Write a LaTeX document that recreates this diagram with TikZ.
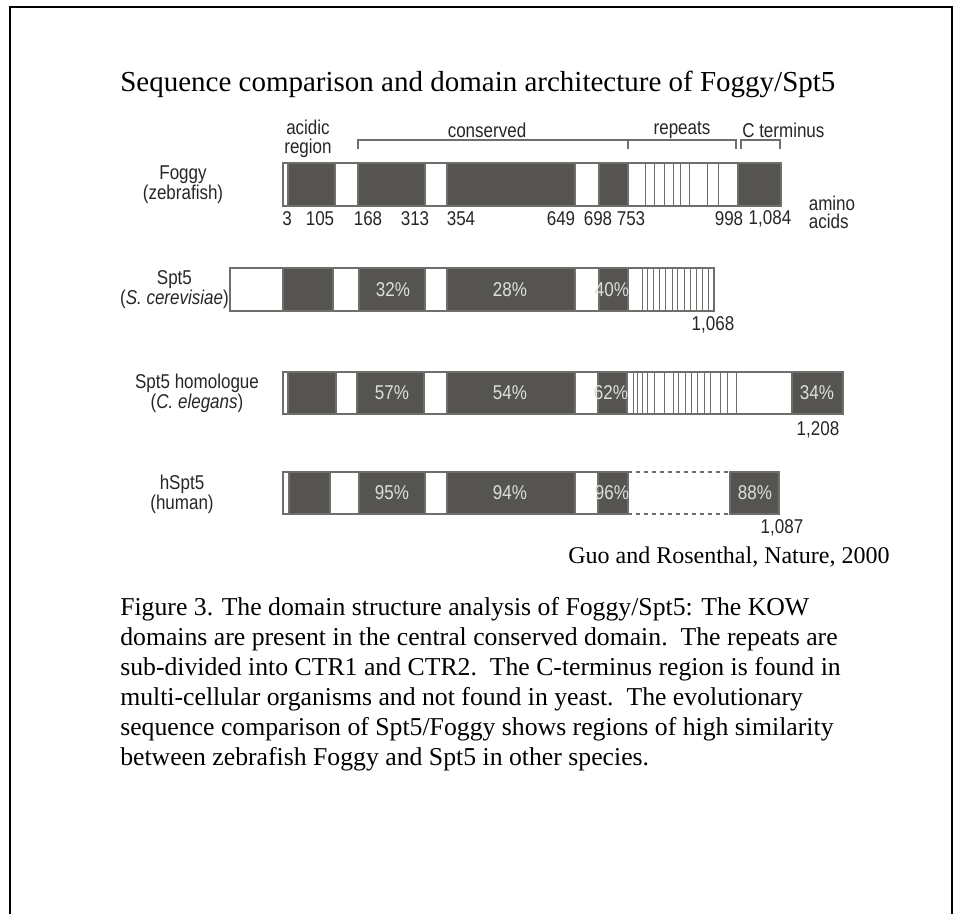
\documentclass[tikz,border=0pt]{standalone}
\usepackage{fontspec}
\setmainfont{Liberation Serif}
\newfontfamily\figsans[FakeStretch=0.85]{Liberation Sans}
\usepackage{tikz}
\usetikzlibrary{positioning}
\definecolor{segdark}{RGB}{86, 84, 80}
\definecolor{segline}{RGB}{112, 110, 106}
\definecolor{pctgrey}{RGB}{222, 222, 218}
\definecolor{labelgrey}{RGB}{38, 38, 38}

\begin{document}
\begin{tikzpicture}[x=0.75pt, y=-0.75pt,
    seg/.style={fill=segdark, draw=segline, line width=0.8pt},
    bar/.style={fill=white, draw=segline, line width=0.8pt},
    stripe/.style={draw=segline, line width=0.6pt},
    bracket/.style={draw=segline, line width=0.8pt},
    pct/.style={font=\figsans\fontsize{15}{16}\selectfont, text=pctgrey, inner sep=0pt},
    num/.style={font=\figsans\fontsize{15}{16}\selectfont, text=labelgrey, inner sep=0pt},
    species/.style={font=\figsans\fontsize{15}{15}\selectfont, align=center, text=labelgrey, inner sep=0pt},
    region/.style={font=\figsans\fontsize{15}{14}\selectfont, align=center, text=labelgrey, inner sep=0pt}
]
\useasboundingbox (0,0) rectangle (956,914);

% Frame
\draw[line width=1.5pt] (10,914) -- (10,7) -- (952,7) -- (952,914);

% Title
\node (title) [anchor=base west, inner sep=0pt, font=\fontsize{21.75}{24}\selectfont] at (120,91) {Sequence comparison and domain architecture of Foggy/Spt5};

% Domain labels and brackets
\node (acidic)    [region] at (308,139) {acidic\\region};
\node (conserved) [region] at (487,130) {conserved};
\node (repeats)   [region] at (682,130) {repeats};
\node (cterm)     [region, anchor=west] at (742,130) {C terminus};
\draw[bracket] (358,149) -- (358,140) -- (628,140) -- (628,149);
\draw[bracket] (628,140) -- (736,140) -- (736,149);
\draw[bracket] (741,149) -- (741,140) -- (780,140) -- (780,149);

% Foggy (zebrafish)
\node (foggy) [species] at (183,185) {Foggy\\(zebrafish)};
\draw[bar] (283,163) rectangle (781,206);
\draw[seg] (288,163) rectangle (335,206);
\draw[seg] (358,163) rectangle (425,206);
\draw[seg] (447,163) rectangle (575,206);
\draw[seg] (599,163) rectangle (628,206);
\draw[seg] (738,163) rectangle (781,206);
\foreach \sx in {645,654,664,673,680,689,707,718}
  \draw[stripe] (\sx,163) -- (\sx,206);

\node (n3)    [num] at (287,219) {3};
\node (n105)  [num] at (320,219) {105};
\node (n168)  [num] at (368,219) {168};
\node (n313)  [num] at (415,219) {313};
\node (n354)  [num] at (461,219) {354};
\node (n649)  [num] at (561,219) {649};
\node (n698)  [num] at (598,219) {698};
\node (n753)  [num] at (631,219) {753};
\node (n998)  [num] at (729,219) {998};
\node (n1084) [num] at (770,219) {1,084};
\node (amino) [region, align=left, font=\figsans\fontsize{15}{13.5}\selectfont] at (832,212) {amino\\acids};

% Spt5 (S. cerevisiae)
\draw[bar] (230,268) rectangle (714,311);
\draw[seg] (283,268) rectangle (333,311);
\draw[seg] (359,268) rectangle (425,311);
\draw[seg] (447,268) rectangle (575,311);
\draw[seg] (599,268) rectangle (628,311);
\foreach \sx in {642,647,653,659,665,672,677,684,690,696,702,708}
  \draw[stripe] (\sx,268) -- (\sx,311);
\node (yeast) [species, anchor=east] at (229,290) {Spt5\\(\textit{S. cerevisiae})};
\node (y32) [pct] at (393,289.5) {32\%};
\node (y28) [pct] at (510,289.5) {28\%};
\node (y40) [pct] at (612,289.5) {40\%};
\node (n1068) [num] at (713,325) {1,068};

% Spt5 homologue (C. elegans)
\node (worm) [species] at (197,393) {Spt5 homologue\\(\textit{C. elegans})};
\draw[bar] (283,372) rectangle (843,414);
\draw[seg] (288,372) rectangle (336,414);
\draw[seg] (357,372) rectangle (424,414);
\draw[seg] (447,372) rectangle (575,414);
\draw[seg] (598,372) rectangle (627,414);
\draw[seg] (792,372) rectangle (843,414);
\foreach \sx in {633,637,642,647,654,664,673,678,685,691,697,704,710,720,727,736}
  \draw[stripe] (\sx,372) -- (\sx,414);
\node (w57) [pct] at (392,393) {57\%};
\node (w54) [pct] at (510,393) {54\%};
\node (w62) [pct] at (611,393) {62\%};
\node (w34) [pct] at (817,393) {34\%};
\node (n1208) [num] at (818,430) {1,208};

% hSpt5 (human)
\node (human) [species] at (182,494) {hSpt5\\(human)};
\draw[bar] (283,472) rectangle (628,514);
\draw[seg] (289,472) rectangle (330,514);
\draw[seg] (359,472) rectangle (425,514);
\draw[seg] (447,472) rectangle (575,514);
\draw[seg] (598,472) rectangle (628,514);
\draw[bracket, dashed] (628,472) -- (730,472);
\draw[bracket, dashed] (628,514) -- (730,514);
\draw[seg] (730,472) rectangle (779,514);
\node (h95) [pct] at (392,493) {95\%};
\node (h94) [pct] at (510,493) {94\%};
\node (h96) [pct] at (612,493) {96\%};
\node (h88) [pct] at (755,493) {88\%};
\node (n1087) [num] at (782,528) {1,087};

% Source and caption
\node (source) [anchor=base west, inner sep=0pt, font=\fontsize{18}{20}\selectfont] at (568,563) {Guo and Rosenthal, Nature, 2000};
\node (caption) [anchor=north west, inner sep=0pt, align=left, font=\fontsize{19.3}{22.5}\selectfont] at (120,597)
  {Figure 3. The domain structure analysis of Foggy/Spt5: The KOW\\
   domains are present in the central conserved domain.\ \ The repeats are\\
   sub-divided into CTR1 and CTR2.\ \ The C-terminus region is found in\\
   multi-cellular organisms and not found in yeast.\ \ The evolutionary\\
   sequence comparison of Spt5/Foggy shows regions of high similarity\\
   between zebrafish Foggy and Spt5 in other species.};

\end{tikzpicture}
\end{document}
